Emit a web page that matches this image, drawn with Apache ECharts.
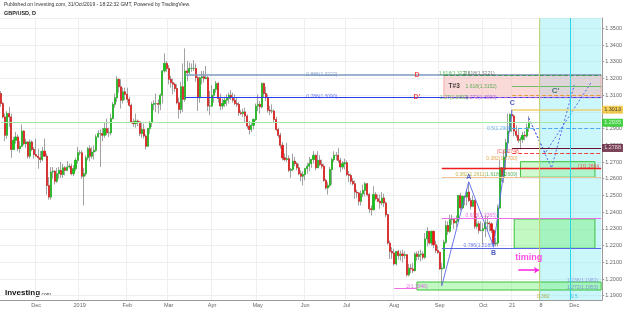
<!DOCTYPE html>
<html><head><meta charset="utf-8">
<script src="https://cdn.jsdelivr.net/npm/echarts@6/dist/echarts.min.js"></script>
<style>html,body{margin:0;padding:0;background:#fff}#c{width:625px;height:309px}</style>
</head><body><div id="c"></div>
<script>
// ---- Daily GBP/USD bars, rows are [open, high, low, close] ----
const nov2018 = [[1.3110,1.3125,1.3030,1.3050],[1.3050,1.3060,1.2960,1.2970],[1.2970,1.2990,1.2825,1.2860],[1.2860,1.3005,1.2840,1.2990],[1.2990,1.3030,1.2910,1.2970],[1.2970,1.2990,1.2725,1.2775],[1.2775,1.2850,1.2775,1.2830],[1.2830,1.2880,1.2810,1.2850],[1.2850,1.2865,1.2765,1.2780],[1.2780,1.2825,1.2755,1.2795],[1.2795,1.2925,1.2790,1.2885],[1.2885,1.2890,1.2800,1.2810],[1.2810,1.2840,1.2785,1.2820],[1.2820,1.2825,1.2720,1.2735],[1.2735,1.2835,1.2720,1.2820],[1.2820,1.2830,1.2765,1.2775],[1.2775,1.2790,1.2720,1.2745]];
const dec2018 = [[1.2745,1.2840,1.2735,1.2735],[1.2735,1.2780,1.2660,1.2725],[1.2725,1.2765,1.2695,1.2715],[1.2715,1.2790,1.2705,1.2765],[1.2765,1.2840,1.2730,1.2735],[1.2735,1.2750,1.2505,1.2560],[1.2560,1.2610,1.2475,1.2490],[1.2490,1.2670,1.2475,1.2640],[1.2640,1.2670,1.2600,1.2645],[1.2645,1.2650,1.2565,1.2585],[1.2585,1.2665,1.2575,1.2630],[1.2630,1.2670,1.2600,1.2650],[1.2650,1.2700,1.2605,1.2625],[1.2625,1.2690,1.2605,1.2665],[1.2665,1.2675,1.2620,1.2650],[1.2650,1.2705,1.2645,1.2670],[1.2670,1.2690,1.2660,1.2675],[1.2675,1.2690,1.2620,1.2630],[1.2630,1.2680,1.2615,1.2660],[1.2660,1.2725,1.2645,1.2710],[1.2710,1.2790,1.2690,1.2755]];
const jan2019 = [[1.2755,1.2770,1.2740,1.2755],[1.2755,1.2770,1.2600,1.2615],[1.2615,1.2665,1.2440,1.2630],[1.2630,1.2740,1.2615,1.2725],[1.2725,1.2790,1.2710,1.2780],[1.2780,1.2800,1.2705,1.2735],[1.2735,1.2790,1.2720,1.2760],[1.2760,1.2800,1.2715,1.2770],[1.2770,1.2865,1.2760,1.2850],[1.2850,1.2890,1.2845,1.2870],[1.2870,1.2895,1.2670,1.2870],[1.2870,1.2905,1.2825,1.2860],[1.2860,1.2935,1.2845,1.2900],[1.2900,1.2960,1.2860,1.2875],[1.2875,1.2905,1.2850,1.2875],[1.2875,1.2990,1.2860,1.2960],[1.2960,1.3060,1.2955,1.3045],[1.3045,1.3110,1.3025,1.3085],[1.3085,1.3215,1.3060,1.3195],[1.3195,1.3200,1.3115,1.3150],[1.3150,1.3195,1.3020,1.3070],[1.3070,1.3145,1.3050,1.3120],[1.3120,1.3145,1.3070,1.3105]];
const feb2019 = [[1.3105,1.3145,1.3055,1.3075],[1.3075,1.3090,1.3030,1.3040],[1.3040,1.3050,1.2930,1.2940],[1.2940,1.2960,1.2910,1.2930],[1.2930,1.2990,1.2905,1.2945],[1.2945,1.2955,1.2915,1.2940],[1.2940,1.2945,1.2855,1.2870],[1.2870,1.2935,1.2845,1.2895],[1.2895,1.2930,1.2840,1.2855],[1.2855,1.2865,1.2775,1.2795],[1.2795,1.2905,1.2790,1.2900],[1.2900,1.2945,1.2870,1.2935],[1.2935,1.3060,1.2910,1.3045],[1.3045,1.3070,1.3010,1.3050],[1.3050,1.3110,1.3000,1.3050],[1.3050,1.3075,1.2990,1.3045],[1.3045,1.3110,1.3010,1.3100],[1.3100,1.3250,1.3050,1.3245],[1.3245,1.3350,1.3235,1.3290],[1.3290,1.3305,1.3240,1.3260]];
const mar2019 = [[1.3260,1.3280,1.3165,1.3195],[1.3195,1.3215,1.3145,1.3175],[1.3175,1.3200,1.3105,1.3165],[1.3165,1.3175,1.3120,1.3140],[1.3140,1.3165,1.3045,1.3055],[1.3055,1.3085,1.2960,1.3015],[1.3015,1.3180,1.2990,1.3150],[1.3150,1.3290,1.3000,1.3075],[1.3075,1.3380,1.3060,1.3245],[1.3245,1.3305,1.3185,1.3235],[1.3235,1.3295,1.3225,1.3260],[1.3260,1.3290,1.3240,1.3260],[1.3260,1.3310,1.3245,1.3260],[1.3260,1.3290,1.3180,1.3205],[1.3205,1.3215,1.3005,1.3085],[1.3085,1.3210,1.3055,1.3205],[1.3205,1.3245,1.3165,1.3210],[1.3210,1.3245,1.3175,1.3200],[1.3200,1.3275,1.3195,1.3205],[1.3205,1.3215,1.3005,1.3035],[1.3035,1.3125,1.2980,1.3035]];
const apr2019 = [[1.3035,1.3160,1.3030,1.3100],[1.3100,1.3135,1.3055,1.3135],[1.3135,1.3185,1.3115,1.3170],[1.3170,1.3180,1.3055,1.3080],[1.3080,1.3110,1.3010,1.3035],[1.3035,1.3080,1.3015,1.3050],[1.3050,1.3090,1.3030,1.3070],[1.3070,1.3105,1.3035,1.3080],[1.3080,1.3115,1.3050,1.3100],[1.3100,1.3130,1.3070,1.3085],[1.3085,1.3115,1.3055,1.3070],[1.3070,1.3105,1.3040,1.3050],[1.3050,1.3085,1.3030,1.3045],[1.3045,1.3060,1.2975,1.2995],[1.2995,1.3010,1.2980,1.2990],[1.2990,1.3020,1.2970,1.3000],[1.3000,1.3025,1.2935,1.2975],[1.2975,1.2985,1.2900,1.2915],[1.2915,1.2945,1.2865,1.2895],[1.2895,1.2935,1.2880,1.2920],[1.2920,1.2960,1.2895,1.2955],[1.2955,1.3050,1.2945,1.3035]];
const may2019 = [[1.3035,1.3105,1.3005,1.3045],[1.3045,1.3065,1.2990,1.3030],[1.3030,1.3175,1.3020,1.3170],[1.3170,1.3175,1.3085,1.3110],[1.3110,1.3150,1.3065,1.3085],[1.3085,1.3105,1.2995,1.3010],[1.3010,1.3035,1.2980,1.3005],[1.3005,1.3045,1.2990,1.3005],[1.3005,1.3015,1.2935,1.2955],[1.2955,1.2970,1.2885,1.2895],[1.2895,1.2905,1.2845,1.2860],[1.2860,1.2875,1.2780,1.2800],[1.2800,1.2820,1.2710,1.2725],[1.2725,1.2750,1.2705,1.2715],[1.2715,1.2815,1.2700,1.2720],[1.2720,1.2740,1.2640,1.2650],[1.2650,1.2665,1.2605,1.2655],[1.2655,1.2750,1.2645,1.2705],[1.2705,1.2730,1.2675,1.2690],[1.2690,1.2700,1.2650,1.2665],[1.2665,1.2690,1.2620,1.2630],[1.2630,1.2650,1.2585,1.2615],[1.2615,1.2645,1.2560,1.2625]];
const jun2019 = [[1.2625,1.2665,1.2590,1.2660],[1.2660,1.2695,1.2630,1.2675],[1.2675,1.2730,1.2645,1.2690],[1.2690,1.2720,1.2665,1.2715],[1.2715,1.2765,1.2690,1.2740],[1.2740,1.2745,1.2650,1.2665],[1.2665,1.2765,1.2665,1.2710],[1.2710,1.2740,1.2675,1.2685],[1.2685,1.2715,1.2660,1.2675],[1.2675,1.2690,1.2580,1.2590],[1.2590,1.2600,1.2535,1.2545],[1.2545,1.2580,1.2505,1.2560],[1.2560,1.2670,1.2550,1.2655],[1.2655,1.2725,1.2565,1.2715],[1.2715,1.2765,1.2700,1.2740],[1.2740,1.2760,1.2710,1.2740],[1.2740,1.2785,1.2695,1.2710],[1.2710,1.2725,1.2640,1.2670],[1.2670,1.2705,1.2655,1.2690],[1.2690,1.2720,1.2655,1.2695]];
const jul2019 = [[1.2695,1.2710,1.2615,1.2625],[1.2625,1.2645,1.2580,1.2620],[1.2620,1.2630,1.2565,1.2585],[1.2585,1.2605,1.2560,1.2570],[1.2570,1.2590,1.2480,1.2520],[1.2520,1.2535,1.2485,1.2515],[1.2515,1.2520,1.2440,1.2465],[1.2465,1.2530,1.2440,1.2510],[1.2510,1.2565,1.2490,1.2530],[1.2530,1.2580,1.2495,1.2570],[1.2570,1.2575,1.2495,1.2505],[1.2505,1.2515,1.2395,1.2420],[1.2420,1.2440,1.2380,1.2415],[1.2415,1.2555,1.2410,1.2505],[1.2505,1.2520,1.2470,1.2480],[1.2480,1.2505,1.2460,1.2465],[1.2465,1.2505,1.2420,1.2455],[1.2455,1.2520,1.2440,1.2485],[1.2485,1.2510,1.2430,1.2455],[1.2455,1.2465,1.2370,1.2385],[1.2385,1.2390,1.2205,1.2215],[1.2215,1.2230,1.2120,1.2165],[1.2165,1.2190,1.2120,1.2155]];
const aug2019 = [[1.2155,1.2180,1.2080,1.2090],[1.2090,1.2165,1.2080,1.2165],[1.2165,1.2175,1.2115,1.2140],[1.2140,1.2170,1.2110,1.2150],[1.2150,1.2175,1.2100,1.2140],[1.2140,1.2165,1.2120,1.2145],[1.2145,1.2150,1.2015,1.2025],[1.2025,1.2090,1.2015,1.2065],[1.2065,1.2090,1.2035,1.2060],[1.2060,1.2095,1.2035,1.2050],[1.2050,1.2160,1.2045,1.2150],[1.2150,1.2165,1.2110,1.2135],[1.2135,1.2170,1.2115,1.2145],[1.2145,1.2175,1.2105,1.2150],[1.2150,1.2165,1.2115,1.2130],[1.2130,1.2275,1.2120,1.2240],[1.2240,1.2310,1.2195,1.2285],[1.2285,1.2285,1.2205,1.2215],[1.2215,1.2290,1.2200,1.2285],[1.2285,1.2290,1.2185,1.2205],[1.2205,1.2230,1.2155,1.2170],[1.2170,1.2200,1.2150,1.2160]];
const sep2019 = [[1.2160,1.2165,1.2055,1.2060],[1.2060,1.2095,1.1960,1.2065],[1.2065,1.2235,1.2060,1.2220],[1.2220,1.2350,1.2210,1.2320],[1.2320,1.2345,1.2265,1.2285],[1.2285,1.2385,1.2275,1.2355],[1.2355,1.2385,1.2325,1.2355],[1.2355,1.2365,1.2300,1.2335],[1.2335,1.2380,1.2310,1.2345],[1.2345,1.2500,1.2340,1.2500],[1.2500,1.2515,1.2410,1.2425],[1.2425,1.2500,1.2420,1.2495],[1.2495,1.2500,1.2440,1.2490],[1.2490,1.2540,1.2440,1.2520],[1.2520,1.2580,1.2460,1.2470],[1.2470,1.2485,1.2415,1.2435],[1.2435,1.2500,1.2430,1.2470],[1.2470,1.2475,1.2300,1.2315],[1.2315,1.2375,1.2300,1.2330],[1.2330,1.2345,1.2270,1.2290],[1.2290,1.2345,1.2285,1.2290]];
const oct2019 = [[1.2290,1.2335,1.2205,1.2300],[1.2300,1.2385,1.2250,1.2335],[1.2335,1.2375,1.2285,1.2335],[1.2335,1.2345,1.2285,1.2330],[1.2330,1.2340,1.2275,1.2290],[1.2290,1.2300,1.2195,1.2210],[1.2210,1.2245,1.2195,1.2215],[1.2215,1.2445,1.2195,1.2425],[1.2425,1.2710,1.2420,1.2665],[1.2665,1.2670,1.2580,1.2615],[1.2615,1.2770,1.2575,1.2730],[1.2730,1.2840,1.2650,1.2815],[1.2815,1.2990,1.2755,1.2885],[1.2885,1.2990,1.2880,1.2985],[1.2985,1.3013,1.2880,1.2975],[1.2975,1.2985,1.2855,1.2885],[1.2885,1.2920,1.2845,1.2860],[1.2860,1.2905,1.2815,1.2830],[1.2830,1.2850,1.2775,1.2835],[1.2835,1.2880,1.2815,1.2860],[1.2860,1.2885,1.2830,1.2855],[1.2855,1.2930,1.2845,1.2905],[1.2905,1.2975,1.2880,1.2935]];

// ---- axis / labels ----
const firstDay = '2018-11-08';
const dayCount = 291;             // trading days shown incl. projection space
const monthLabels = {'2018-12-03':'Dec','2019-01-01':'2019','2019-02-01':'Feb','2019-03-01':'Mar','2019-04-01':'Apr','2019-05-01':'May','2019-06-03':'Jun','2019-07-01':'Jul','2019-08-01':'Aug','2019-09-02':'Sep','2019-10-01':'Oct','2019-10-21':'21','2019-11-08':'8','2019-12-02':'Dec'};
const yRange = [1.18743, 1.35618];

// ---- annotation levels (prices) ----
const fibLongLevels = [1.3222, 1.3090];          // 0.886 / 0.786 retracements from Mar-13 high
const zoneT3 = [1.3222, 1.3085];                  // T#3 box
const targetLevels = [1.3218, 1.3152, 1.3100, 1.3013, 1.2902, 1.2784, 1.2752];
const supportLevels = [1.2662, 1.2609, 1.2363, 1.2184];
const boxC = [1.2702, 1.2609];
const boxB = [1.2359, 1.2184];
const boxLow = [1.1982, 1.1934];
const lastPrice = 1.2935;
const waveDates = ['2019-09-03','2019-09-20','2019-10-08','2019-10-21'];
const waveValues = [1.1959, 1.2582, 1.2195, 1.3013];
const projDatesA = ['2019-10-31','2019-11-15','2019-12-02'];
const projValuesA = [1.2963, 1.2664, 1.3161];
const projDatesB = ['2019-10-31','2019-11-12','2019-12-12'];
const projValuesB = [1.2963, 1.2754, 1.3173];

// ---- build ----
const ohlc = [].concat(nov2018, dec2018, jan2019, feb2019, mar2019, apr2019, may2019, jun2019, jul2019, aug2019, sep2019, oct2019);
const dates = [];
(function(){
  let d = new Date(firstDay + 'T00:00:00Z');
  while (dates.length < dayCount) {
    const wd = d.getUTCDay();
    if (wd !== 0 && wd !== 6) dates.push(d.toISOString().slice(0,10));
    d = new Date(d.getTime() + 86400000);
  }
})();
const ix = s => dates.indexOf(s);
const lastIx = dates.length - 1;
const boxEnd = lastIx - 3;
const candle = ohlc.map(r => [r[0], r[3], r[2], r[1]]);
const bodies = ohlc.map(r => [r[0], r[3], Math.min(r[0], r[3]), Math.max(r[0], r[3])]);
const isLabel = (i, v) => monthLabels[v] !== undefined;

const FONT = 'Liberation Sans, Arial, sans-serif';
function seg(x1, x2, y, color, type, width) {
  return [{coord:[x1, y], lineStyle:{color:color, type:type||'solid', width:width||1}}, {coord:[x2, y]}];
}
const iSep3 = ix('2019-09-03'), iOct21 = ix('2019-10-21'), iMar13 = ix('2019-03-13');

const markLines = [
  seg(iMar13, lastIx, fibLongLevels[0], '#7d9bc1', 'solid', 1.6),
  seg(iMar13, lastIx, fibLongLevels[1], '#2b3cf0', 'solid', 1.2),
  seg(ix('2019-09-04'), lastIx, targetLevels[0], '#3a9a55', 'dashed', 1),
  seg(iOct21, lastIx, targetLevels[1], '#4cb34c', 'solid', 0.8),
  seg(iOct21, lastIx, targetLevels[2], '#e49a3a', 'dashed', 1),
  seg(ix('2019-09-04'), lastIx, zoneT3[1], '#9b5fe0', 'dashed', 1),
  seg(iOct21, lastIx, targetLevels[3], '#f0d070', 'solid', 1.5),
  seg(0, lastIx, lastPrice, '#a6e8a6', 'solid', 1),
  seg(iOct21, lastIx, targetLevels[4], '#4aa8ee', 'dashed', 1),
  seg(iOct21, lastIx, targetLevels[5], '#6a1030', 'solid', 1),
  seg(iOct21, lastIx, targetLevels[6], '#f04040', 'dashed', 1),
  seg(iSep3, lastIx, supportLevels[0], '#ee1c1c', 'solid', 1.4),
  seg(iSep3, lastIx, supportLevels[1], '#f2c49a', 'solid', 1),
  seg(iSep3, lastIx, supportLevels[2], '#ee6ee8', 'solid', 1),
  seg(iSep3, lastIx, supportLevels[3], '#5a64e6', 'solid', 1),
  seg(ix('2019-08-01'), ix('2019-08-16'), 1.1944, '#ee6ee8', 'solid', 1),
  [{coord:[ix('2019-10-24'), 1.2053], symbol:'none', lineStyle:{color:'#ff20e0', width:1.5, type:'solid'}}, {coord:[ix('2019-11-07'), 1.2053], symbol:'arrow', symbolSize:5}],
  {xAxis: ix('2019-11-07'), lineStyle:{color:'#c8d27a', type:'solid', width:1}},
  {xAxis: ix('2019-11-28'), lineStyle:{color:'#29d3ea', type:'solid', width:1}}
];
const markAreas = [
  [{xAxis: ix('2019-11-07'), itemStyle:{color:'rgba(130,235,245,0.42)'}}, {xAxis: lastIx}],
  [{coord:[ix('2019-09-04'), zoneT3[0]], itemStyle:{color:'rgba(245,170,170,0.45)', borderColor:'#e07070', borderWidth:0.5}}, {coord:[lastIx, zoneT3[1]]}],
  [{coord:[ix('2019-10-25'), boxC[0]], itemStyle:{color:'rgba(120,240,120,0.35)', borderColor:'#3cc23c', borderWidth:1}}, {coord:[boxEnd, boxC[1]]}],
  [{coord:[ix('2019-10-22'), boxB[0]], itemStyle:{color:'rgba(120,240,120,0.45)', borderColor:'#3cc23c', borderWidth:1}}, {coord:[boxEnd, boxB[1]]}],
  [{coord:[ix('2019-08-16'), boxLow[0]], itemStyle:{color:'rgba(120,240,120,0.45)', borderColor:'#3cc23c', borderWidth:1}}, {coord:[lastIx, boxLow[1]]}]
];

// text annotations: [text, date, price]
const noteTexts = [
  ['0.886(1.3222)', '2019-06-13', 1.3222], ['0.786(1.3090)', '2019-06-13', 1.3090],
  ['D', '2019-08-16', 1.3222], ["D'", '2019-08-16', 1.3090], ['T#3', '2019-09-11', 1.3152],
  ['1.618(1.3221)', '2019-09-11', 1.3230], ['2.618(1.3221)', '2019-09-27', 1.3230],
  ['1.27(1.3092)', '2019-09-11', 1.3086], ['1.272(1.3090)', '2019-09-30', 1.3086],
  ['1.618(1.3152)', '2019-09-30', 1.3152], ["C'", '2019-11-19', 1.3125], ['C', '2019-10-21', 1.3050],
  ['0.5(1.2906)', '2019-10-11', 1.2902], ['[C]1.2748', '2019-10-17', 1.2765], ['0.382(1.2700)', '2019-10-14', 1.2718],
  ['[1]1.2664', '2019-12-11', 1.2672],
  ['0.382(1.2611)', '2019-09-23', 1.2625], ['1.618(1.2609)', '2019-10-14', 1.2625], ['A', '2019-09-20', 1.2610],
  ['0.618(1.2365)', '2019-09-30', 1.2378], ['0.786(1.2185)', '2019-09-27', 1.2198], ['B', '2019-10-08', 1.2155],
  ['timing', '2019-10-31', 1.2130], ['2(1.1946)', '2019-08-16', 1.1956],
  ['1.236(1.1982)', '2019-12-06', 1.1990], ['1.272(1.1953)', '2019-12-06', 1.1946],
  ['0.382', '2019-11-11', 1.1895], ['0.5', '2019-12-02', 1.1895]
];
const noteColors = {'0.886(1.3222)':'#6f8db8','0.786(1.3090)':'#5060f0','D':'#ff2020',"D'":'#ff2020','T#3':'#111','1.618(1.3221)':'#3aa53a','2.618(1.3221)':'#555','1.27(1.3092)':'#3aa53a','1.272(1.3090)':'#9a50e0','1.618(1.3152)':'#3aa53a',"C'":'#1d5a5a','C':'#2030b0','0.5(1.2906)':'#48a0e8','[C]1.2748':'#ee3030','0.382(1.2700)':'#e0902a','[1]1.2664':'#ee3030','0.382(1.2611)':'#b0a020','1.618(1.2609)':'#3aa53a','A':'#3040c0','0.618(1.2365)':'#e050e0','0.786(1.2185)':'#5060f0','B':'#2030b0','timing':'#ff20e0','2(1.1946)':'#e050e0','1.236(1.1982)':'#8a8ae0','1.272(1.1953)':'#6a7ad0','0.382':'#a0a020','0.5':'#20b8d8'};
const bigNotes = {'D':7,"D'":7,'T#3':6.5,"C'":8,'C':7,'A':7,'B':7,'timing':9};

const chart = echarts.init(document.getElementById('c'), null, {renderer:'canvas'});
chart.setOption({
  animation:false,
  backgroundColor:'#fff',
  textStyle:{fontFamily:FONT},
  grid:{left:0, right:19, top:18, bottom:9, containLabel:false},
  xAxis:{type:'category', data:dates, boundaryGap:true,
    axisLine:{show:true, lineStyle:{color:'#9a9a9a'}},
    axisTick:{show:false},
    axisLabel:{interval:isLabel, formatter:v=>monthLabels[v]||'', fontSize:5.5, color:'#666', margin:2, fontFamily:FONT},
    splitLine:{show:true, interval:isLabel, lineStyle:{color:'#efefef', width:1}}},
  yAxis:{type:'value', position:'right', min:yRange[0], max:yRange[1], minInterval:0.01, maxInterval:0.01, splitNumber:17,
    axisLine:{show:true, lineStyle:{color:'#9a9a9a'}},
    axisTick:{show:true, length:2, lineStyle:{color:'#9a9a9a'}},
    axisLabel:{formatter:v=>v.toFixed(4), fontSize:5.5, color:'#666', margin:3, showMinLabel:false, showMaxLabel:false, fontFamily:FONT},
    splitLine:{show:true, lineStyle:{color:'#efefef', width:1}}},
  series:[
    {type:'candlestick', data:candle, barWidth:1.6,
      itemStyle:{color:'#19c419', color0:'#ee1a1a', borderColor:'#7a7a7a', borderColor0:'#7a7a7a', borderWidth:0.7},
      markLine:{silent:true, symbol:['none','none'], label:{show:false}, data:markLines},
      markArea:{silent:true, data:markAreas}},
    {type:'candlestick', data:bodies, barWidth:1.6, z:3,
      itemStyle:{color:'#13c613', color0:'#f01414', borderColor:'#13c613', borderColor0:'#f01414', borderWidth:0.4}},
    {type:'line', data:waveDates.map((d,i)=>[ix(d), waveValues[i]]), symbol:'none', lineStyle:{color:'#5a68e8', width:0.9}, z:4},
    {type:'line', data:projDatesA.map((d,i)=>[ix(d), projValuesA[i]]), symbol:'none', lineStyle:{color:'#4a5ae6', width:0.9, type:[2,2]}, z:4},
    {type:'line', data:projDatesB.map((d,i)=>[ix(d), projValuesB[i]]), symbol:'none', lineStyle:{color:'#4a5ae6', width:0.9, type:[2,2]}, z:4},
    {type:'scatter', symbolSize:0, z:5, silent:true,
      data:noteTexts.map(n=>({value:[ix(n[1]), n[2]], label:{show:true, position:'inside', formatter:n[0], color:noteColors[n[0]], fontSize:bigNotes[n[0]]||5, fontWeight:bigNotes[n[0]]?'bold':'normal', fontFamily:FONT}}))},
    {type:'scatter', symbolSize:0, z:6, silent:true,
      data:[
        {value:[lastIx, targetLevels[3]], label:{show:true, position:'right', distance:1, formatter:'1.3013', fontSize:5.5, color:'#222', backgroundColor:'#f5c431', padding:[1,2]}},
        {value:[lastIx, lastPrice], label:{show:true, position:'right', distance:1, formatter:lastPrice.toFixed(4), fontSize:5.5, color:'#fff', backgroundColor:'#16c816', padding:[1,2]}},
        {value:[lastIx, targetLevels[5]], label:{show:true, position:'right', distance:1, formatter:'1.2788', fontSize:5.5, color:'#fff', backgroundColor:'#5b1530', padding:[1,2]}}
      ]}
  ],
  graphic:[
    {type:'text', left:4, top:2, style:{text:'Published on Investing.com, 31/Oct/2019 - 18:22:32 GMT, Powered by TradingView.', fontSize:5, fill:'#333', fontFamily:FONT}},
    {type:'text', left:4, top:10, style:{text:'GBP/USD, D', fontSize:5.5, fontWeight:'bold', fill:'#222', fontFamily:FONT}},
    {type:'text', left:5, top:289, style:{text:'Investing', fontSize:8, fontWeight:'bold', fill:'#111', fontFamily:FONT}},
    {type:'text', left:40, top:292, style:{text:'.com', fontSize:5, fill:'#333', fontFamily:FONT}}
  ]
});
</script></body></html>
